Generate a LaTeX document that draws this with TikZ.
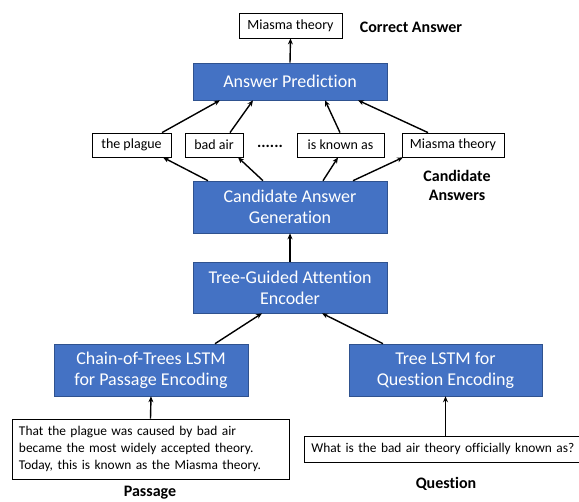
\documentclass[tikz,border=0pt]{standalone}
\usepackage{fontspec}
\setmainfont{Carlito}[Ligatures=NoCommon]
\usetikzlibrary{arrows.meta,calc}
\definecolor{boxblue}{HTML}{4472C4}
\definecolor{boxedge}{HTML}{2F528F}
\tikzset{
  bluebox/.style={draw=boxedge, line width=0.6pt, fill=boxblue, text=white, align=center,
    font=\fontsize{18}{21}\selectfont, inner sep=0pt},
  wordbox/.style={draw=black, line width=0.8pt, fill=white, align=center,
    font=\fontsize{14}{17}\selectfont, inner sep=0pt, minimum height=24pt},
  textbox/.style={draw=black, line width=0.8pt, fill=white, align=left,
    font=\fontsize{13.4}{16.7}\selectfont, inner sep=0pt, inner xsep=7pt},
  lbl/.style={font=\fontsize{16}{19}\selectfont\bfseries, align=center, inner sep=0pt},
  arr/.style={line width=1.4pt, -{Stealth[length=6pt,width=5pt]}}
}
\begin{document}
\begin{tikzpicture}[x=1pt,y=-1pt]
\useasboundingbox (0,0) rectangle (579,502);
% top
\node[wordbox, minimum width=103pt, minimum height=25pt] (top) at (290.5,25.5) {Miasma theory};
\node[lbl] (correct) at (411,27) {Correct Answer};
\node[bluebox, minimum width=194pt, minimum height=37pt] (ap) at (290,81.5) {Answer Prediction};
% candidates
\node[wordbox, minimum width=79pt] (plague) at (131.5,145) {the plague};
\node[wordbox, minimum width=58pt] (badair) at (214,145) {bad air};
\node[font=\fontsize{16}{18}\selectfont\bfseries, inner sep=0pt] (dots) at (270,146) {......};
\node[wordbox, minimum width=87pt] (known) at (340.5,145) {is known as};
\node[wordbox, minimum width=102pt] (miasma) at (453,145) {Miasma theory};
\node[lbl] (candlbl) at (457,185.5) {Candidate\\Answers};
\node[bluebox, minimum width=194pt, minimum height=52pt] (cag) at (290,207) {Candidate Answer\\Generation};
\node[bluebox, minimum width=194pt, minimum height=51pt] (tgae) at (290,287.5) {Tree-Guided Attention\\Encoder};
\node[bluebox, minimum width=194pt, minimum height=52pt] (chain) at (151,370) {Chain-of-Trees LSTM\\for Passage Encoding};
\node[bluebox, minimum width=193pt, minimum height=52pt] (tree) at (445.5,370) {Tree LSTM for\\Question Encoding};
\node[textbox, minimum width=277pt, minimum height=60pt, text width=263pt] (passage) at (150.5,449)
  {That the plague was caused by bad air\\became the most widely accepted theory.\\Today, this is known as the Miasma theory.};
\node[textbox, minimum height=26pt, text width=300pt, anchor=west] (question) at (304,449)
  {What is the bad air theory officially known as?};
\node[lbl] (passlbl) at (150,493) {Passage};
\node[lbl] (qlbl) at (446,484) {Question};
% arrows
\draw[arr] (ap.north) -- (top.south);
\draw[arr] ([xshift=-82pt]cag.north) -- ([xshift=31.5pt]plague.south);
\draw[arr] ([xshift=-27pt]cag.north) -- ([xshift=24pt]badair.south);
\draw[arr] ([xshift=33pt]cag.north) -- ([xshift=-2.5pt]known.south);
\draw[arr] ([xshift=63pt]cag.north) -- ([xshift=-50pt]miasma.south);
\draw[arr] ([xshift=30.5pt]plague.north) -- ([xshift=-70pt]ap.south);
\draw[arr] ([xshift=16pt]badair.north) -- ([xshift=-37pt]ap.south);
\draw[arr] ([xshift=-0.5pt]known.north) -- ([xshift=35pt]ap.south);
\draw[arr] ([xshift=-25pt]miasma.north) -- ([xshift=68pt]ap.south);
\draw[arr] (tgae.north) -- (cag.south);
\draw[arr] ([xshift=64pt]chain.north) -- ([xshift=-28pt]tgae.south);
\draw[arr] ([xshift=-62.5pt]tree.north) -- ([xshift=32pt]tgae.south);
\draw[arr] (passage.north) -- (chain.south);
\draw[arr] (tree.south |- question.north) -- (tree.south);
\end{tikzpicture}
\end{document}
